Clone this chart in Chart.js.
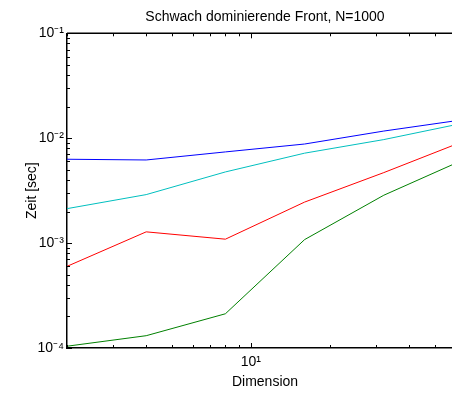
<!DOCTYPE html>
<html>
<head>
<meta charset="utf-8">
<script src="https://cdn.jsdelivr.net/npm/chart.js@4.4.0/dist/chart.umd.min.js"></script>
<style>
  html, body { margin: 0; padding: 0; background: #fff; }
  #wrap { width: 452px; height: 394px; overflow: hidden; }
</style>
</head>
<body>
<div id="wrap"><canvas id="chart" width="480" height="394"></canvas></div>
<script>
// values (log-log)
const dims = [2, 4, 8, 16, 32, 64];
const blueTimes = [6.3e-3, 6.2e-3, 7.4e-3, 8.8e-3, 1.17e-2, 1.5e-2];
const cyanTimes = [2.13e-3, 2.9e-3, 4.77e-3, 7.2e-3, 9.7e-3, 1.39e-2];
const redTimes = [6.0e-4, 1.28e-3, 1.09e-3, 2.46e-3, 4.7e-3, 9.3e-3];
const greenTimes = [1.04e-4, 1.31e-4, 2.12e-4, 1.08e-3, 2.86e-3, 6.2e-3];

const xTicks = [2, 3, 4, 5, 6, 7, 8, 9, 10, 20, 30, 40, 50, 60];
const xMajor = [10];
const yTicks = [];
for (const e of [-4, -3, -2]) for (let m = 1; m < 10; m++) yTicks.push(m * Math.pow(10, e));
yTicks.push(1e-1);
const yMajor = [1e-4, 1e-3, 1e-2, 1e-1];
const yLabels = { '0.0001': '10⁻⁴', '0.001': '10⁻³', '0.01': '10⁻²', '0.1': '10⁻¹' };

const pts = arr => dims.map((d, i) => ({ x: d, y: arr[i] }));
const font = { family: 'Liberation Sans, Arial, sans-serif', size: 14 };

// matlab-like box: top line plus inward ticks on all visible sides
const boxTicks = {
  id: 'boxTicks',
  afterDraw(chart) {
    const { ctx, chartArea: a, scales: { x, y } } = chart;
    ctx.save();
    ctx.strokeStyle = '#000';
    ctx.lineWidth = 1.5;
    ctx.beginPath();
    ctx.moveTo(a.left, a.top);
    ctx.lineTo(a.right, a.top);
    ctx.stroke();
    ctx.lineWidth = 1;
    ctx.beginPath();
    for (const v of xTicks) {
      const px = Math.round(x.getPixelForValue(v)) + 0.5;
      const len = xMajor.includes(v) ? 5 : 3;
      ctx.moveTo(px, a.bottom); ctx.lineTo(px, a.bottom - len);
      ctx.moveTo(px, a.top); ctx.lineTo(px, a.top + len);
    }
    for (const v of yTicks) {
      const py = Math.round(y.getPixelForValue(v)) + 0.5;
      const len = yMajor.includes(v) ? 5 : 3;
      ctx.moveTo(a.left, py); ctx.lineTo(a.left + len, py);
      ctx.moveTo(a.right, py); ctx.lineTo(a.right - len, py);
    }
    ctx.stroke();
    ctx.restore();
  }
};

new Chart(document.getElementById('chart'), {
  type: 'line',
  data: {
    datasets: [
      { data: pts(blueTimes), borderColor: '#0000ff' },
      { data: pts(cyanTimes), borderColor: '#00bfbf' },
      { data: pts(redTimes), borderColor: '#ff0000' },
      { data: pts(greenTimes), borderColor: '#008000' }
    ].map(d => ({ ...d, borderWidth: 1, pointRadius: 0, fill: false, tension: 0 }))
  },
  options: {
    responsive: false,
    devicePixelRatio: 1,
    animation: false,
    layout: { padding: { left: 0, right: 17, top: 0, bottom: 0 } },
    plugins: {
      legend: { display: false },
      tooltip: { enabled: false },
      title: {
        display: true,
        fullSize: false,
        text: 'Schwach dominierende Front, N=1000',
        color: '#000',
        font: { ...font, weight: 'normal' },
        padding: { top: 8.6, bottom: 7.9 }
      }
    },
    scales: {
      x: {
        type: 'logarithmic',
        min: 2,
        max: 64,
        afterBuildTicks: s => { s.ticks = xTicks.map(v => ({ value: v })); },
        afterFit: s => { s.height = 46; },
        grid: { display: false, drawTicks: false },
        border: { color: '#000', width: 1.5 },
        ticks: {
          autoSkip: false, maxRotation: 0, padding: 6, color: '#000', font,
          callback: v => (v === 10 ? '10¹' : '')
        },
        title: { display: true, text: 'Dimension', color: '#000', font, padding: { top: 0, bottom: 3.6 } }
      },
      y: {
        type: 'logarithmic',
        min: 1e-4,
        max: 1e-1,
        afterBuildTicks: s => { s.ticks = yTicks.map(v => ({ value: v })); },
        afterFit: s => { s.width = 67; },
        grid: { display: false, drawTicks: false },
        border: { color: '#000', width: 1.5 },
        ticks: {
          autoSkip: false, padding: 3, color: '#000', font,
          callback: v => yLabels[String(+v.toPrecision(3))] || ''
        },
        title: { display: true, text: 'Zeit [sec]', color: '#000', font, padding: { top: 24, bottom: 0 } }
      }
    }
  },
  plugins: [boxTicks]
});
</script>
</body>
</html>
